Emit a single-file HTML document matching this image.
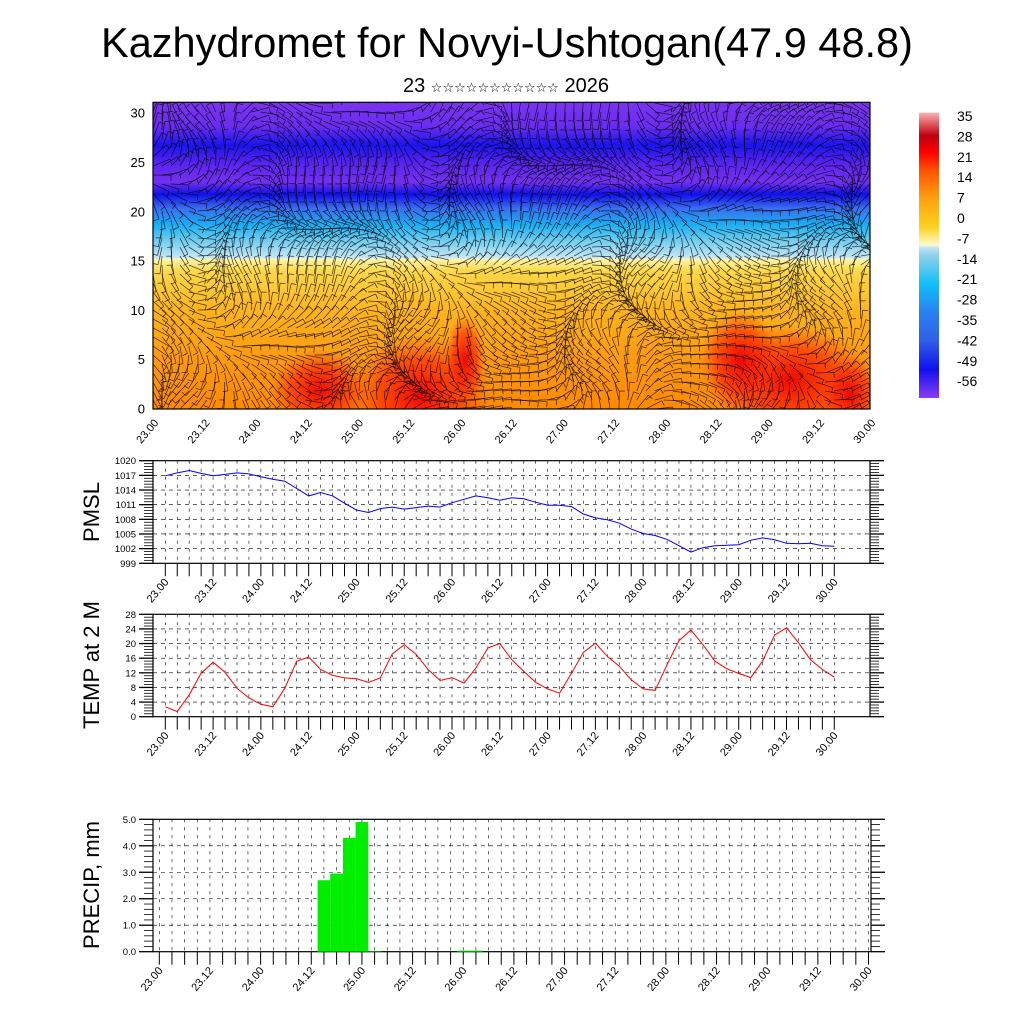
<!DOCTYPE html>
<html><head><meta charset="utf-8"><style>
html,body{margin:0;padding:0;background:#fff;}
svg{display:block;font-family:"Liberation Sans",Arial,sans-serif;}
</style></head><body>
<svg id="chart" width="1024" height="1024" viewBox="0 0 1024 1024" xmlns="http://www.w3.org/2000/svg">
<defs>
<linearGradient id="vg" x1="0" y1="1" x2="0" y2="0">
<stop offset="0" stop-color="#ff8a00"/>
<stop offset="0.16" stop-color="#ff9a10"/>
<stop offset="0.32" stop-color="#ffb41c"/>
<stop offset="0.45" stop-color="#ffd84a"/>
<stop offset="0.49" stop-color="#fff6b0"/>
<stop offset="0.492" stop-color="#c8e8f6"/>
<stop offset="0.55" stop-color="#70ccf0"/>
<stop offset="0.60" stop-color="#18b0f4"/>
<stop offset="0.655" stop-color="#3a6cf0"/>
<stop offset="0.70" stop-color="#1010ea"/>
<stop offset="0.74" stop-color="#7430f0"/>
<stop offset="0.80" stop-color="#5a24f0"/>
<stop offset="0.86" stop-color="#1a14ee"/>
<stop offset="0.92" stop-color="#6a2cf0"/>
<stop offset="1" stop-color="#7a34f0"/>
</linearGradient>
<radialGradient id="rb"><stop offset="0" stop-color="#f00000" stop-opacity="0.95"/><stop offset="0.6" stop-color="#ff2000" stop-opacity="0.6"/><stop offset="1" stop-color="#ff4000" stop-opacity="0"/></radialGradient>
<linearGradient id="cb" x1="0" y1="1" x2="0" y2="0">
<stop offset="0" stop-color="#8a3cf0"/>
<stop offset="0.1" stop-color="#1010f0"/>
<stop offset="0.2" stop-color="#3060e8"/>
<stop offset="0.3" stop-color="#2a80f0"/>
<stop offset="0.4" stop-color="#10c0f8"/>
<stop offset="0.5" stop-color="#90d0ea"/>
<stop offset="0.53" stop-color="#c8e8f4"/>
<stop offset="0.535" stop-color="#fffad0"/>
<stop offset="0.6" stop-color="#ffd020"/>
<stop offset="0.7" stop-color="#ffa010"/>
<stop offset="0.8" stop-color="#ff5000"/>
<stop offset="0.86" stop-color="#ff0000"/>
<stop offset="0.92" stop-color="#c00010"/>
<stop offset="1" stop-color="#ffb0b0"/>
</linearGradient>
<clipPath id="topclip"><rect x="153" y="102" width="717" height="307"/></clipPath>
</defs>
<text x="507" y="57" font-size="41.5" text-anchor="middle">Kazhydromet for Novyi-Ushtogan(47.9 48.8)</text>
<text x="506" y="92" font-size="20" text-anchor="middle">23 <tspan font-size="13" font-family="'DejaVu Sans',sans-serif">☆☆☆☆☆☆☆☆☆☆☆</tspan> 2026</text>
<g id="top"></g>
<g id="cbar"></g>
<g id="pmsl"></g>
<g id="temp"></g>
<g id="prec"></g>
</svg>
<script>
const timeLabels=["23.00","23.12","24.00","24.12","25.00","25.12","26.00","26.12","27.00","27.12","28.00","28.12","29.00","29.12","30.00"];
const pmslValues=[1016.9,1017.5,1018.0,1017.4,1016.9,1017.2,1017.5,1017.3,1016.7,1016.2,1015.8,1014.3,1012.8,1013.5,1012.8,1011.3,1009.9,1009.4,1010.2,1010.5,1010.1,1010.4,1010.7,1010.5,1011.4,1012.1,1012.8,1012.4,1011.9,1012.4,1012.2,1011.5,1010.9,1010.9,1010.6,1009.1,1008.3,1007.9,1007.2,1006.0,1005.1,1004.7,1003.9,1002.6,1001.3,1002.2,1002.6,1002.7,1002.8,1003.7,1004.2,1003.8,1003.1,1003.0,1003.1,1002.6,1002.5];
const pmslTicks=[999,1002,1005,1008,1011,1014,1017,1020];
const tempValues=[2.7,1.4,6.0,11.9,14.9,12.1,7.8,5.1,3.4,2.7,7.8,15.2,16.3,12.9,11.3,10.6,10.4,9.4,10.6,17.2,19.7,17.0,12.9,9.9,10.7,9.2,13.3,18.8,20.0,15.6,12.4,9.4,7.6,6.4,11.9,17.6,20.1,16.5,13.8,10.1,7.6,7.2,14.2,20.8,23.7,19.7,15.2,13.1,11.8,10.7,15.2,22.3,24.3,20.2,15.6,12.9,10.8];
const tempTicks=[0,4,8,12,16,20,24,28];
const precipValues=[0,0,0,0,0,0,0,0,0,0,0,0,0,2.7,2.95,4.3,4.9,0.02,0,0,0,0,0,0,0.04,0.04,0,0,0,0,0,0,0,0,0,0,0,0,0,0,0,0,0,0,0,0,0,0,0,0,0,0,0,0,0,0,0];
const precipTicks=[0,1,2,3,4,5];
const heightTicks=[0,5,10,15,20,25,30];
const cbarLabels=["35","28","21","14","7","0","-7","-14","-21","-28","-35","-42","-49","-56"];

const NS="http://www.w3.org/2000/svg";
function mk(tag,attrs,parent){const e=document.createElementNS(NS,tag);for(const k in attrs)e.setAttribute(k,attrs[k]);parent.appendChild(e);return e;}

function linePanel(g,o){
  const {x0,x1,y0,y1,tx0,tx1,vmin,vmax,ticks,fmt,title,tcx,tcy}=o;
  const n=56;
  const xs=k=>tx0+(tx1-tx0)*k/n;
  const ys=v=>y1-(v-vmin)/(vmax-vmin)*(y1-y0);
  for(let k=0;k<=n;k++){const l=mk('line',{x1:xs(k),x2:xs(k),y1:y0,y2:y1,stroke:'#000','stroke-width':0.6,'stroke-dasharray':'3,5'},g);
    
    const t=mk('line',{x1:xs(k),x2:xs(k),y1:y1,y2:y1+13,stroke:'#000','stroke-width':1},g);
    }
  ticks.forEach((v,i)=>{
    if(i>0&&i<ticks.length-1){const l=mk('line',{x1:x0,x2:x1,y1:ys(v),y2:ys(v),stroke:'#000','stroke-width':0.6,'stroke-dasharray':'4,4'},g);
      }
    [[x0-14,x0],[x1,x1+14]].forEach(p=>{const t=mk('line',{x1:p[0],x2:p[1],y1:ys(v),y2:ys(v),stroke:'#000','stroke-width':1.3},g);
      });
    if(i<ticks.length-1){for(let m=1;m<5;m++){const vv=v+(ticks[i+1]-v)*m/5;
      [[x0-9,x0],[x1,x1+9]].forEach(p=>{const t=mk('line',{x1:p[0],x2:p[1],y1:ys(vv),y2:ys(vv),stroke:'#000','stroke-width':0.8},g);
      });}}
    const tl=mk('text',{x:x0-17,y:ys(v)+3.5,'font-size':9.5,'text-anchor':'end'},g);tl.textContent=fmt(v);
    
  });
  const b=mk('rect',{x:x0,y:y0,width:x1-x0,height:y1-y0,fill:'none',stroke:'#000','stroke-width':1.2},g);
  
  if(o.values){
    const pts=o.values.map((v,k)=>xs(k).toFixed(1)+','+ys(v).toFixed(1)).join(' ');
    const pl=mk('polyline',{points:pts,fill:'none',stroke:o.color,'stroke-width':1},g);
    
  }
  if(o.bars){
    const w=(tx1-tx0)/n;
    o.bars.forEach((v,k)=>{if(v<=0)return;const r=mk('rect',{x:xs(k)-w/2,y:ys(v),width:w,height:ys(0)-ys(v),fill:'#00ee00'},g);
      });
  }
  timeLabels.forEach((s,i)=>{const x=xs(i*4)+4,y=y1+19;
    const t=mk('text',{x:x,y:y,'font-size':11,'text-anchor':'end',transform:`rotate(-50 ${x} ${y})`},g);t.textContent=s;
    });
  const tt=mk('text',{x:tcx,y:tcy,'font-size':22,'text-anchor':'middle',transform:`rotate(-90 ${tcx} ${tcy})`},g);tt.textContent=title;
  
}

linePanel(document.getElementById('pmsl'),{x0:153,x1:870,y0:460.7,y1:563.3,tx0:165.3,tx1:834.3,vmin:999,vmax:1020,ticks:pmslTicks,fmt:v=>String(v),title:'PMSL',tcx:99,tcy:512,values:pmslValues,color:'#0000ff',seriesName:'pmsl-line'});
linePanel(document.getElementById('temp'),{x0:153,x1:870,y0:614.3,y1:716.7,tx0:165.3,tx1:834.3,vmin:0,vmax:28,ticks:tempTicks,fmt:v=>String(v),title:'TEMP at 2 M',tcx:99,tcy:665,values:tempValues,color:'#ff0000',seriesName:'temp-line'});
linePanel(document.getElementById('prec'),{x0:153,x1:871,y0:819.3,y1:951.7,tx0:159.3,tx1:868.5,vmin:0,vmax:5,ticks:precipTicks,fmt:v=>v.toFixed(1),title:'PRECIP, mm',tcx:99,tcy:885,bars:precipValues});

(function(){
  const g=document.getElementById('top');
  const X0=153,X1=870,Y0=102.3,Y1=409;
  const yv=v=>Y1-v*9.86;
  const cg=mk('g',{'clip-path':'url(#topclip)'},g);
  const bg=mk('rect',{x:X0,y:Y0,width:X1-X0,height:Y1-Y0,fill:'url(#vg)'},cg);
  
  [[420,395,70,60],[465,360,20,45],[320,390,50,40],[790,380,80,55],[740,360,40,50],[850,395,30,40]].forEach(b=>{
    const e=mk('ellipse',{cx:b[0],cy:b[1],rx:b[2],ry:b[3],fill:'url(#rb)'},cg);
    });
  const wg=mk('g',{stroke:'#000','stroke-opacity':0.72,'stroke-width':0.75,fill:'none'},cg);
  
  for(let i=0;i<=80;i++){for(let j=0;j<=34;j++){
    const x=X0+i*8.96, y=Y1-j*9.0;
    const a=1.2*Math.sin(i*0.21+j*0.13)+0.9*Math.cos(i*0.09-j*0.31)+0.5*Math.sin(i*0.47+j*0.05);
    const L=18;const dx=Math.cos(a)*L, dy=Math.sin(a)*L;
    mk('path',{d:`M${x.toFixed(1)},${y.toFixed(1)}l${dx.toFixed(1)},${dy.toFixed(1)}m0,0l${(-dy*0.3).toFixed(1)},${(dx*0.3).toFixed(1)}`},wg);
  }}
  const fr=mk('rect',{x:X0,y:Y0,width:X1-X0,height:Y1-Y0,fill:'none',stroke:'#000','stroke-width':1.2},g);
  
  heightTicks.forEach(v=>{const t=mk('text',{x:X0-8,y:yv(v)+4.5,'font-size':13,'text-anchor':'end'},g);t.textContent=String(v);
    });
  timeLabels.forEach((s,i)=>{const x=X0+(X1-X0)*i/14+6,y=Y1+14;
    const t=mk('text',{x:x,y:y,'font-size':11,'text-anchor':'end',transform:`rotate(-50 ${x} ${y})`},g);t.textContent=s;
    });
})();

(function(){
  const g=document.getElementById('cbar');
  const r=mk('rect',{x:919,y:112.7,width:20,height:285.3,fill:'url(#cb)'},g);
  
  cbarLabels.forEach((s,i)=>{const t=mk('text',{x:957,y:121+i*20.4,'font-size':14},g);t.textContent=s;
    });
})();
</script>
</body></html>
